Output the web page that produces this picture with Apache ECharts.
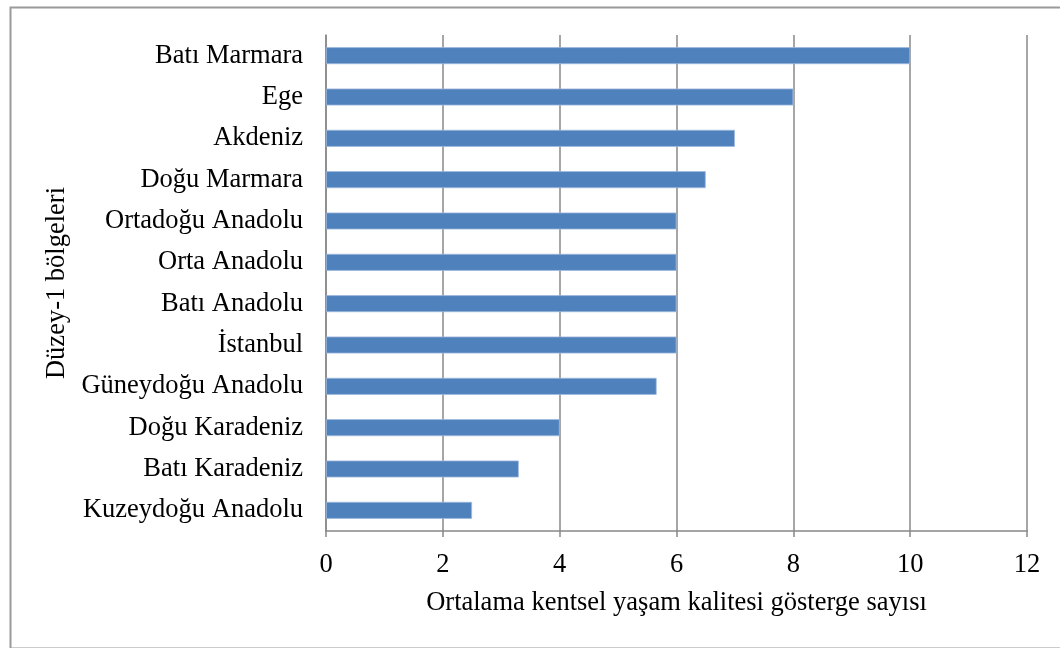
<!DOCTYPE html>
<html>
<head>
<meta charset="utf-8">
<script src="https://cdn.jsdelivr.net/npm/echarts@6/dist/echarts.min.js"></script>
<style>
html,body{margin:0;padding:0;background:#fff;}
#chart{width:1060px;height:648px;}
</style>
</head>
<body>
<div id="chart"></div>
<script>
// Categories listed bottom to top (ECharts category y-axis starts at bottom)
const categories = ["Kuzeydoğu Anadolu","Batı Karadeniz","Doğu Karadeniz","Güneydoğu Anadolu","İstanbul","Batı Anadolu","Orta Anadolu","Ortadoğu Anadolu","Doğu Marmara","Akdeniz","Ege","Batı Marmara"];
const values = [2.5, 3.3, 4, 5.66, 6, 6, 6, 6, 6.5, 7, 8, 10];
const xTicks = [0, 2, 4, 6, 8, 10, 12];
const xAxisTitle = "Ortalama kentsel yaşam kalitesi gösterge sayısı";
const yAxisTitle = "Düzey-1 bölgeleri";

const font = "'Liberation Serif', 'DejaVu Serif', serif";
const fs = 26.5;
const chart = echarts.init(document.getElementById('chart'), null, {renderer: 'canvas'});
chart.setOption({
  animation: false,
  backgroundColor: '#fff',
  graphic: [{
    type: 'rect', left: 8, top: 5, silent: true,
    shape: {width: 1060, height: 641},
    style: {fill: 'none', stroke: '#9a9a9a', lineWidth: 2}
  }],
  grid: {left: 326, right: 33, top: 35, bottom: 117, containLabel: false},
  xAxis: {
    type: 'value', min: xTicks[0], max: xTicks[xTicks.length-1], interval: 2,
    name: xAxisTitle, nameLocation: 'middle', nameGap: 59,
    nameTextStyle: {fontFamily: font, fontSize: fs, color: '#000'},
    axisLine: {show: true, lineStyle: {color: '#888', width: 1.5}},
    axisTick: {show: true, length: 6, lineStyle: {color: '#888', width: 1.5}},
    axisLabel: {fontFamily: font, fontSize: fs, color: '#000', margin: 21},
    splitLine: {show: true, lineStyle: {color: '#888', width: 1.5}}
  },
  yAxis: {
    type: 'category', data: categories,
    name: yAxisTitle, nameLocation: 'middle', nameGap: 254, nameRotate: 90,
    nameTextStyle: {fontFamily: font, fontSize: fs, color: '#000'},
    axisLine: {show: true, lineStyle: {color: '#888', width: 1.5}},
    axisTick: {show: false},
    axisLabel: {fontFamily: font, fontSize: fs, color: '#000', margin: 23},
    splitLine: {show: false}
  },
  series: [{
    type: 'bar', data: values, barWidth: '41%',
    itemStyle: {color: '#4F81BD', borderColor: '#9DB9DC', borderWidth: 0.8}
  }]
});
</script>
</body>
</html>
